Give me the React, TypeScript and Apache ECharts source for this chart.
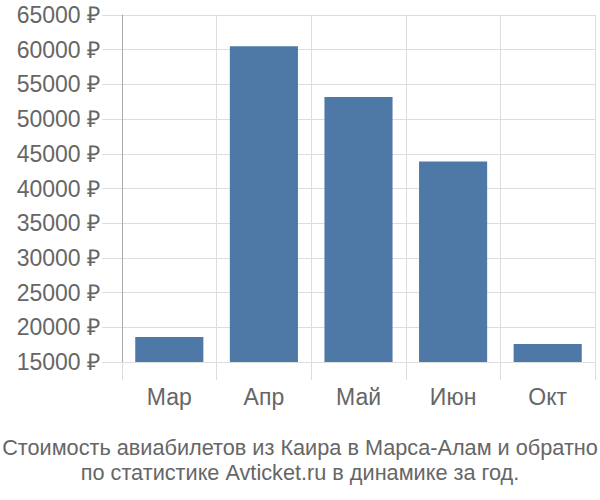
import React, { useEffect, useRef } from 'react';
import * as echarts from 'echarts';

const COLORS = {
  FG_COLOR: '#666666',
  BAR: '#4e79a7',
  SPLIT_LINE: '#dddddd',
  AXIS_LINE: '#aaaaaa',
};

const FONT = '"Liberation Sans", Arial, sans-serif';

const months = ['Мар', 'Апр', 'Май', 'Июн', 'Окт'];
const prices = [18600, 60500, 53200, 43900, 17600];

const titleLines = [
  'Стоимость авиабилетов из Каира в Марса-Алам и обратно',
  'по статистике Avticket.ru в динамике за год.',
];

const App: React.FC = () => {
  const divEL = useRef<HTMLDivElement>(null);

  useEffect(() => {
    const instance = echarts.init(divEL.current as any, null, { renderer: 'svg' });

    const option: echarts.EChartsOption = {
      animation: false,
      title: {
        text: titleLines.join('\n'),
        left: 'center',
        top: 430,
        textStyle: {
          fontFamily: FONT,
          fontSize: 21.7,
          fontWeight: 'normal',
          lineHeight: 25,
          color: COLORS.FG_COLOR,
        },
      },
      grid: {
        left: 122,
        right: 5,
        top: 15,
        bottom: 138,
      },
      xAxis: {
        type: 'category',
        data: months,
        axisLine: { show: false },
        axisTick: {
          show: true,
          length: 18,
          interval: 0,
          lineStyle: { color: COLORS.SPLIT_LINE },
        },
        splitLine: {
          show: true,
          interval: 0,
          lineStyle: { color: COLORS.SPLIT_LINE },
        },
        axisLabel: {
          color: COLORS.FG_COLOR,
          fontFamily: FONT,
          fontSize: 23,
          margin: 23,
        },
      },
      yAxis: {
        type: 'value',
        min: 15000,
        max: 65000,
        interval: 5000,
        axisLine: {
          show: true,
          lineStyle: { color: COLORS.AXIS_LINE },
        },
        axisTick: {
          show: true,
          length: 20,
          lineStyle: { color: COLORS.SPLIT_LINE },
        },
        splitLine: {
          lineStyle: { color: COLORS.SPLIT_LINE },
        },
        axisLabel: {
          color: COLORS.FG_COLOR,
          fontFamily: FONT,
          fontSize: 23,
          margin: 22,
          formatter: (v: number) => v + ' ₽',
        },
      },
      series: [
        {
          type: 'bar',
          data: prices,
          barCategoryGap: '28%',
          itemStyle: { color: COLORS.BAR },
        },
      ],
    };

    instance.setOption(option);

    return () => {
      instance.dispose();
    };
  }, []);

  return (
    <div
      ref={divEL}
      style={{ position: 'absolute', left: 0, top: 0, width: 600, height: 500 }}
    ></div>
  );
};

export default App;
